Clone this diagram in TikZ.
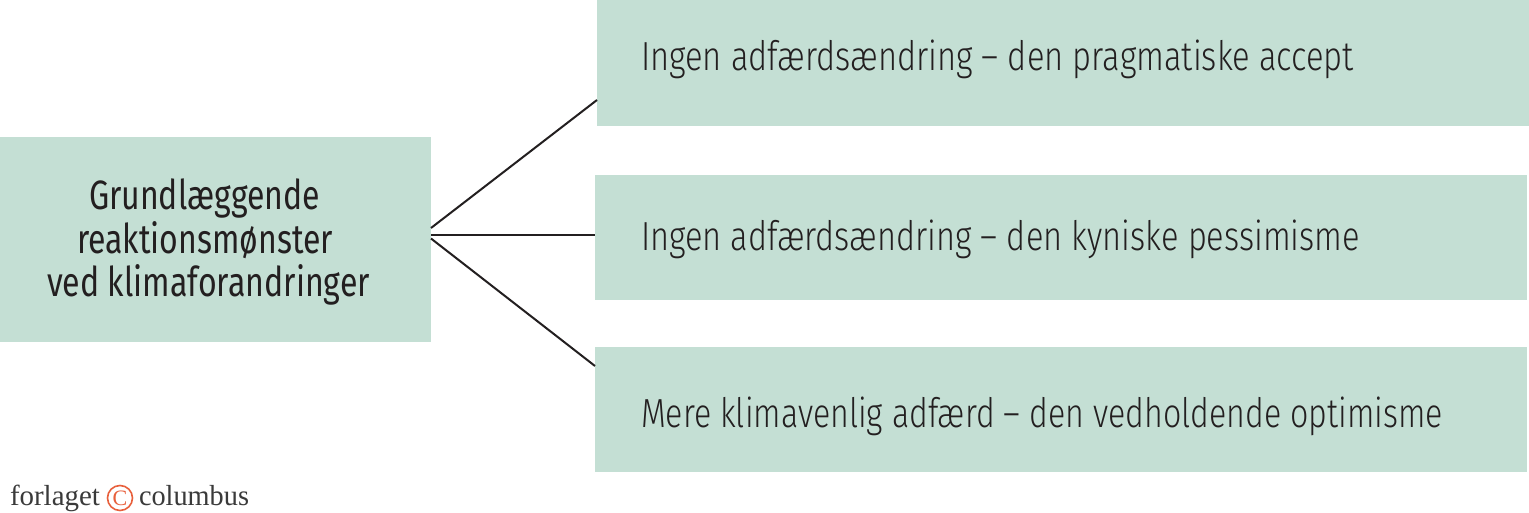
\documentclass[tikz,border=0pt]{standalone}
\usepackage{fontspec}
\usepackage{graphicx}
\setmainfont{Fira Sans}
\newfontfamily\lightf{Fira Sans Light}
\newfontfamily\logof{Liberation Serif}
\definecolor{boxgreen}{HTML}{C4DFD4}
\definecolor{ink}{HTML}{231F20}
\definecolor{logored}{HTML}{E8603C}
\definecolor{logogray}{HTML}{3A3A3A}
\newcommand{\fitw}[2]{\resizebox{#1pt}{\height}{#2}}
\newcommand{\rtxt}{\lightf\fontsize{40.6pt}{48pt}\selectfont}
\newcommand{\ltxt}{\fontsize{41pt}{48pt}\selectfont}
\newcommand{\lgtxt}{\logof\fontsize{29pt}{32pt}\selectfont}
\begin{document}
\begin{tikzpicture}[x=1pt,y=-1pt,
  box/.style={fill=boxgreen, draw=none, inner sep=0pt, outer sep=0pt},
  txt/.style={inner sep=0pt, outer sep=0pt, text=ink, anchor=base west},
  conn/.style={draw=ink, line width=2pt}]
\useasboundingbox (0,0) rectangle (1529,513);
\fill[white] (0,0) rectangle (1529,513);
% boxes
\node[box, minimum width=431pt, minimum height=205pt] (left) at (215.5,239.5) {};
\node[box, minimum width=932pt, minimum height=126pt] (top) at (1063,63) {};
\node[box, minimum width=932pt, minimum height=125pt] (mid) at (1061,237.5) {};
\node[box, minimum width=932pt, minimum height=125pt] (bot) at (1061,409.5) {};
% left text
\node[txt] (l1) at (89,210) {\fitw{231}{\ltxt Grundlæggende}};
\node[txt] (l2) at (77,253) {\fitw{256}{\ltxt reaktionsmønster}};
\node[txt] (l3) at (47,296) {\fitw{323}{\ltxt ved klimaforandringer}};
% right texts
\node[txt] (t1) at (641,71) {\fitw{713}{\rtxt Ingen adfærdsændring – den pragmatiske accept}};
\node[txt] (t2) at (641,251) {\fitw{719}{\rtxt Ingen adfærdsændring – den kyniske pessimisme}};
\node[txt] (t3) at (641,427) {\fitw{802}{\rtxt Mere klimavenlig adfærd – den vedholdende optimisme}};
% connectors
\draw[conn] ([yshift=11.5pt]left.east) -- ([yshift=-37pt]top.west);
\draw[conn] ([yshift=4.5pt]left.east) -- ([yshift=2.5pt]mid.west);
\draw[conn] ([yshift=1pt]left.east) -- ([yshift=43.5pt]bot.west);
% logo
\node[txt, text=logogray] (lg1) at (10,505) {\fitw{90}{\lgtxt forlaget}};
\node[draw=logored, circle, line width=1.6pt, minimum size=25pt, inner sep=0pt, text=logored] (lgc) at (120,498) {\logof\fontsize{22pt}{22pt}\selectfont C};
\node[txt, text=logogray] (lg2) at (139,505) {\fitw{110}{\lgtxt columbus}};
\end{tikzpicture}
\end{document}
